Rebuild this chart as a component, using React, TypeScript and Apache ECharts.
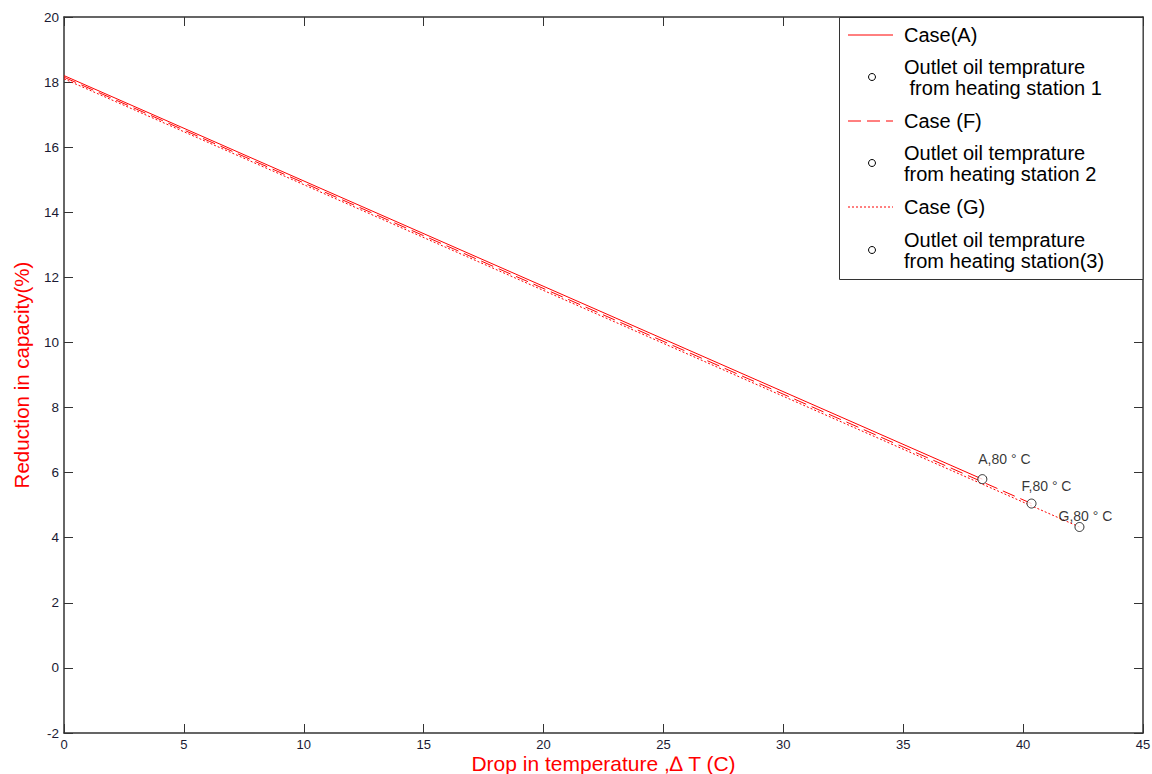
import React, { useEffect, useRef } from "react";
import * as echarts from "echarts";

const caseA: [number, number][] = [[0, 18.2], [38.3, 5.8]];
const caseF: [number, number][] = [[0, 18.15], [40.35, 5.05]];
const caseG: [number, number][] = [[0, 18.1], [42.35, 4.33]];
const station1: [number, number][] = [[38.3, 5.8]];
const station2: [number, number][] = [[40.35, 5.05]];
const station3: [number, number][] = [[42.35, 4.33]];
const pointLabels = ["A,80 ° C", "F,80 ° C", "G,80 ° C"];
const legendNames = [
  "Case(A)",
  "Outlet oil temprature\n from heating station 1",
  "Case (F)",
  "Outlet oil temprature\nfrom heating station 2",
  "Case (G)",
  "Outlet oil temprature\nfrom heating station(3)",
];

const FONT = "'Liberation Sans', Arial, sans-serif";
const AX = "#333333";
const LBL = "#1a1a33";

export default function App() {
  const ref = useRef<HTMLDivElement>(null);
  useEffect(() => {
    document.body.style.margin = "0";
    const chart = echarts.init(ref.current!, null, { renderer: "svg" });
    const lineSeries = (name: string, data: [number, number][], dash?: number[]) => ({
      name,
      type: "line",
      data,
      symbol: "none",
      lineStyle: { color: "#ff0000", width: 1, type: dash ? dash : "solid" },
      z: 3,
    });
    const pointSeries = (name: string, data: [number, number][], label: string, off: [number, number]) => ({
      name,
      type: "scatter",
      data,
      symbol: "circle",
      symbolSize: 9,
      itemStyle: { color: "#ffffff", borderColor: "#000000", borderWidth: 1 },
      label: {
        show: true,
        formatter: label,
        position: "top",
        offset: off,
        color: "#000",
        fontSize: 14,
        fontFamily: FONT,
      },
      z: 4,
    });
    const legendRows = [
      { y: 35, kind: "solid" },
      { y: 77, kind: "circle" },
      { y: 121, kind: "dash" },
      { y: 163, kind: "circle" },
      { y: 207, kind: "dot" },
      { y: 250, kind: "circle" },
    ];
    const legendGraphics: any[] = [
      {
        type: "rect",
        shape: { x: 839.5, y: 17.5, width: 303.5, height: 262 },
        style: { fill: "#ffffff", stroke: AX, lineWidth: 1 },
        z: 10,
      },
    ];
    legendRows.forEach((r, i) => {
      if (r.kind === "circle") {
        legendGraphics.push({
          type: "circle",
          shape: { cx: 872, cy: r.y, r: 3.5 },
          style: { fill: "#fff", stroke: "#000", lineWidth: 1 },
          z: 11,
        });
      } else {
        legendGraphics.push({
          type: "line",
          shape: { x1: 848, y1: r.y, x2: 893, y2: r.y },
          style: {
            stroke: "#ff0000",
            lineWidth: 1,
            lineDash: r.kind === "dash" ? [13, 6] : r.kind === "dot" ? [2, 2] : null,
          },
          z: 11,
        });
      }
      legendGraphics.push({
        type: "text",
        x: 904,
        y: r.y,
        style: {
          text: legendNames[i],
          fontSize: 20,
          fontFamily: FONT,
          fill: "#000",
          verticalAlign: "middle",
          lineHeight: 21,
        },
        z: 11,
      });
    });

    const tick = { show: true, inside: true, length: 9, lineStyle: { color: AX } };
    const axLine = { show: true, onZero: false, lineStyle: { color: AX, width: 1.5 } };

    chart.setOption({
      animation: false,
      backgroundColor: "#ffffff",
      grid: { left: 64, top: 17, right: 9, bottom: 41, containLabel: false, outerBoundsMode: "none" },
      xAxis: [
        {
          type: "value",
          min: 0,
          max: 45,
          interval: 5,
          position: "bottom",
          name: "Drop in temperature ,∆ T (C)",
          nameLocation: "middle",
          nameGap: 20,
          nameMoveOverlap: false,
          nameTextStyle: { color: "#ff0000", fontSize: 21, fontFamily: FONT },
          axisLine: axLine,
          axisTick: tick,
          axisLabel: { color: LBL, fontSize: 13, fontFamily: FONT, margin: 5 },
          splitLine: { show: false },
        },
        {
          type: "value",
          min: 0,
          max: 45,
          interval: 5,
          position: "top",
          axisLine: axLine,
          axisTick: tick,
          axisLabel: { show: false },
          splitLine: { show: false },
        },
      ],
      yAxis: [
        {
          type: "value",
          min: -2,
          max: 20,
          interval: 2,
          position: "left",
          name: "Reduction in capacity(%)",
          nameLocation: "middle",
          nameGap: 32,
          nameMoveOverlap: false,
          nameTextStyle: { color: "#ff0000", fontSize: 20.5, fontFamily: FONT },
          axisLine: axLine,
          axisTick: tick,
          axisLabel: { color: LBL, fontSize: 13.5, fontFamily: FONT, margin: 5 },
          splitLine: { show: false },
        },
        {
          type: "value",
          min: -2,
          max: 20,
          interval: 2,
          position: "right",
          axisLine: axLine,
          axisTick: tick,
          axisLabel: { show: false },
          splitLine: { show: false },
        },
      ],
      series: [
        lineSeries("Case(A)", caseA),
        pointSeries("station1", station1, pointLabels[0], [22, -3]),
        lineSeries("Case (F)", caseF, [13, 6]),
        pointSeries("station2", station2, pointLabels[1], [15, -1]),
        lineSeries("Case (G)", caseG, [2, 2]),
        pointSeries("station3", station3, pointLabels[2], [6, 6]),
      ],
      graphic: legendGraphics,
    });
    return () => chart.dispose();
  }, []);
  return <div ref={ref} style={{ position: "absolute", left: 0, top: 0, width: 1152, height: 774 }} />;
}
